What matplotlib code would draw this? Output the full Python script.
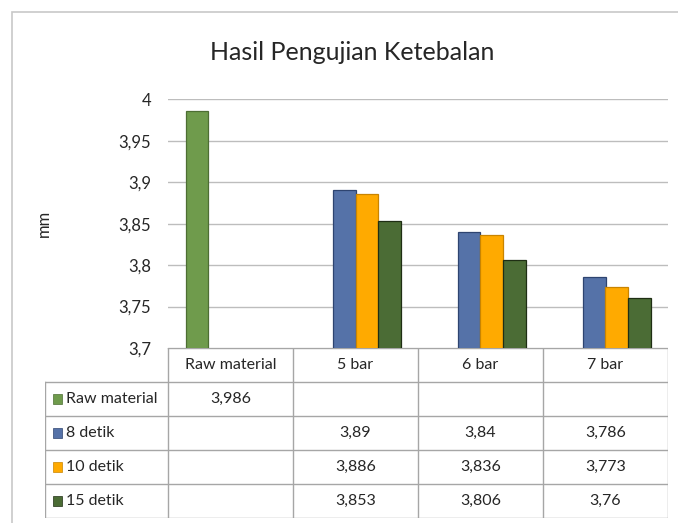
import numpy as np
import matplotlib
matplotlib.use("Agg")
import matplotlib.pyplot as plt
from matplotlib.patches import Rectangle
from matplotlib.ticker import FuncFormatter

# ---- data ----
categories = ['Raw material', '5 bar', '6 bar', '7 bar']
series_names = ['Raw material', '8 detik', '10 detik', '15 detik']
raw_material = [3.986, np.nan, np.nan, np.nan]
detik_8 = [np.nan, 3.89, 3.84, 3.786]
detik_10 = [np.nan, 3.886, 3.836, 3.773]
detik_15 = [np.nan, 3.853, 3.806, 3.76]
y_ticks = [3.7, 3.75, 3.8, 3.85, 3.9, 3.95, 4.0]

series = [raw_material, detik_8, detik_10, detik_15]
colors = ['#6F9B4C', '#5572A8', '#FFAA00', '#4B6C35']
edges = ['#4d6e33', '#2e4470', '#c98400', '#1f2e14']

plt.rcParams['font.family'] = ['Lato', 'DejaVu Sans']
txt = '#262626'

W, H = 678, 523
fig = plt.figure(figsize=(W / 100, H / 100), dpi=100)

# chart border
fig.add_artist(Rectangle((12 / W, -0.05), 1.2, 1 - 12 / H + 0.05, transform=fig.transFigure,
                         fill=False, edgecolor='#c8c8c8', linewidth=1.2))

x0, x1 = 168, 668
ytop, ybot = 99.3, 348
ax = fig.add_axes([x0 / W, 1 - ybot / H, (x1 - x0) / W, (ybot - ytop) / H])
x = np.arange(len(categories))
bw = 0.18
for i, (vals, c, e) in enumerate(zip(series, colors, edges)):
    ax.bar(x + (i - 1.5) * bw, vals, width=bw, color=c, edgecolor=e, linewidth=0.9, zorder=3)
ax.set_xlim(-0.5, len(categories) - 0.5)
ax.set_ylim(y_ticks[0], y_ticks[-1])
ax.set_yticks(y_ticks)
ax.yaxis.set_major_formatter(FuncFormatter(lambda v, p: f"{v:g}".replace('.', ',')))
ax.tick_params(axis='y', length=0, pad=12, labelsize=12, labelcolor=txt)
ax.set_xticks([])
for s in ax.spines.values():
    s.set_visible(False)
ax.grid(axis='y', color='#bdbdbd', linewidth=1.0, zorder=0)
ax.set_ylabel('mm', fontsize=12, color=txt)
ax.yaxis.set_label_coords(-0.232, 0.5)

fig.text(352 / W, 1 - 52 / H, 'Hasil Pengujian Ketebalan', ha='center', va='center',
         fontsize=18, color=txt)

# ---- data table ----
tx0, tx1 = 45, 668
ty0, ty1 = 348, 518
tax = fig.add_axes([tx0 / W, 1 - ty1 / H, (tx1 - tx0) / W, (ty1 - ty0) / H])
ncat = len(categories)
left = -0.5 - (x0 - tx0) / (x1 - x0) * ncat
tax.set_xlim(left, ncat - 0.5)
nrows = len(series) + 1
tax.set_ylim(nrows, 0)
tax.axis('off')
lc = '#a6a6a6'
lw = 1.0
tax.plot([-0.5, ncat - 0.5], [0, 0], color=lc, lw=lw)
for r in range(1, nrows + 1):
    tax.plot([left, ncat - 0.5], [r, r], color=lc, lw=lw)
tax.plot([left, left], [1, nrows], color=lc, lw=lw)
for c in range(ncat + 1):
    tax.plot([c - 0.5, c - 0.5], [0, nrows], color=lc, lw=lw)
for j, cat in enumerate(categories):
    tax.text(j, 0.5, cat, ha='center', va='center', fontsize=11.5, color=txt)
sq = 0.075
for i, (name, vals, c, e) in enumerate(zip(series_names, series, colors, edges)):
    r = i + 1
    tax.add_patch(Rectangle((left + 0.06, r + 0.5 - 0.14), sq, 0.28, facecolor=c,
                            edgecolor=e, lw=0.5))
    tax.text(left + 0.17, r + 0.5, name, ha='left', va='center', fontsize=11.5, color=txt)
    for j, v in enumerate(vals):
        if not np.isnan(v):
            tax.text(j, r + 0.5, f"{v:g}".replace('.', ','), ha='center', va='center',
                     fontsize=11.5, color=txt)

fig.savefig('out.png', dpi=100)
